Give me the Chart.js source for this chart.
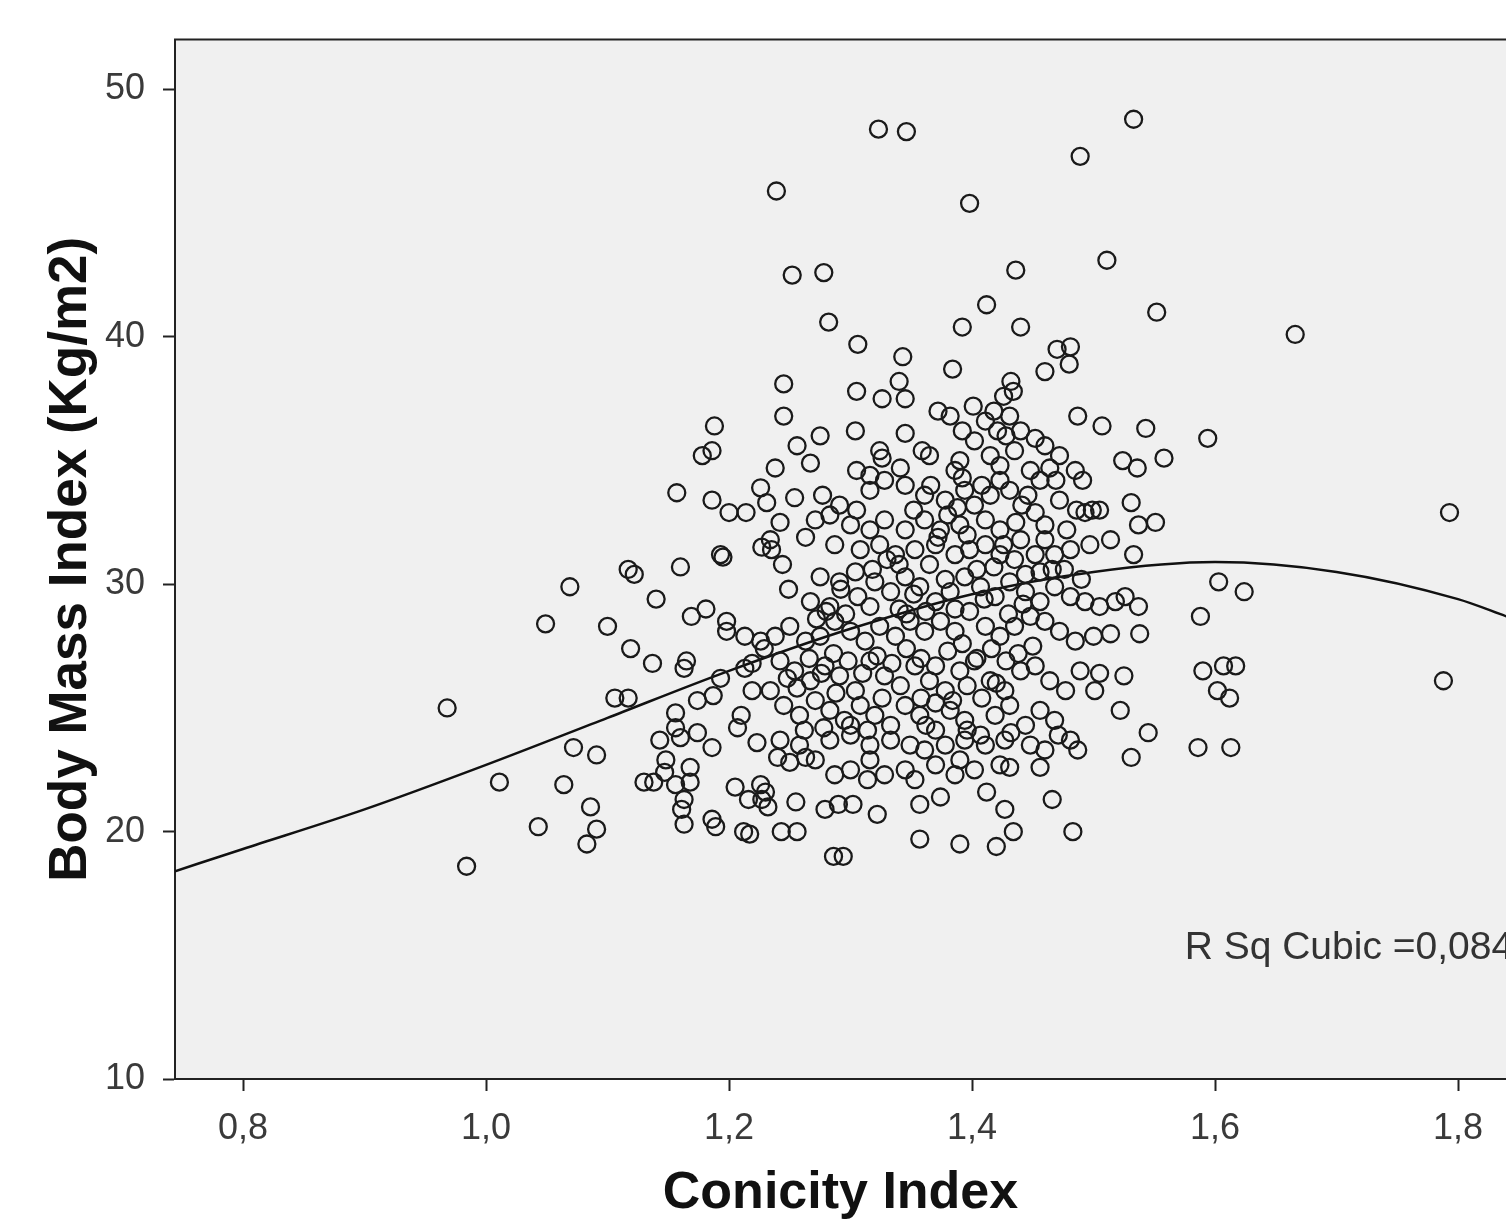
<!DOCTYPE html>
<html>
<head>
<meta charset="utf-8">
<script src="https://cdn.jsdelivr.net/npm/chart.js@4.4.1/dist/chart.umd.min.js"></script>
<style>
  html, body { margin: 0; padding: 0; background: #fff; }
  #wrap { width: 1506px; height: 1225px; position: relative; }
</style>
</head>
<body>
<div id="wrap"><canvas id="bmiChart"></canvas></div>
<script>
// Conicity Index vs Body Mass Index, [x, y]
const points = [
  // upper outliers
  [1.323,48.4],[1.346,48.3],[1.533,48.8],[1.489,47.3],[1.239,45.9],[1.398,45.4],[1.511,43.1],
  [1.252,42.5],[1.278,42.6],[1.436,42.7],[1.412,41.3],[1.552,41.0],[1.282,40.6],[1.392,40.4],
  [1.440,40.4],[1.666,40.1],[1.306,39.7],[1.343,39.2],[1.470,39.5],[1.481,39.6],[1.480,38.9],
  [1.384,38.7],[1.460,38.6],[1.245,38.1],[1.340,38.2],[1.432,38.2],[1.434,37.8],[1.305,37.8],
  [1.326,37.5],[1.345,37.5],[1.372,37.0],[1.401,37.2],[1.426,37.6],
  // 34 - 37
  [1.188,36.4],[1.245,36.8],[1.507,36.4],[1.543,36.3],[1.594,35.9],[1.275,36.0],[1.304,36.2],
  [1.345,36.1],[1.421,36.2],[1.256,35.6],[1.324,35.4],[1.326,35.1],[1.178,35.2],[1.186,35.4],
  [1.524,35.0],[1.536,34.7],[1.558,35.1],[1.267,34.9],[1.359,35.4],[1.238,34.7],[1.305,34.6],
  [1.464,34.7],[1.491,34.2],[1.469,34.2],
  [1.382,36.8],[1.411,36.6],[1.431,36.8],[1.440,36.2],[1.452,35.9],[1.460,35.6],[1.472,35.2],
  [1.435,35.4],[1.415,35.2],[1.390,35.0],[1.365,35.2],[1.341,34.7],[1.316,34.4],[1.423,34.8],
  [1.448,34.6],[1.485,34.6],[1.487,36.8],
  [1.392,36.2],[1.402,35.8],[1.418,37.0],[1.428,36.0],
  // 31 - 34
  [1.157,33.7],[1.186,33.4],[1.226,33.9],[1.231,33.3],[1.254,33.5],[1.277,33.6],[1.531,33.3],
  [1.200,32.9],[1.214,32.9],[1.242,32.5],[1.505,33.0],[1.493,32.9],[1.551,32.5],[1.537,32.4],
  [1.234,31.8],[1.235,31.4],[1.227,31.5],[1.244,30.8],[1.533,31.2],[1.193,31.2],[1.195,31.1],
  [1.291,33.2],[1.305,33.0],[1.316,33.8],[1.328,34.2],[1.345,34.0],[1.361,33.6],[1.378,33.4],
  [1.386,34.6],[1.392,34.3],[1.394,33.8],[1.402,33.2],[1.415,33.6],[1.423,34.2],[1.431,33.8],
  [1.441,33.2],[1.452,32.9],[1.460,32.4],[1.472,33.4],[1.478,32.2],[1.486,33.0],[1.499,33.0],
  [1.460,31.8],[1.440,31.8],[1.423,32.2],[1.411,32.6],[1.390,32.4],[1.374,32.2],[1.361,32.6],
  [1.345,32.2],[1.328,32.6],[1.316,32.2],[1.300,32.4],[1.283,32.8],[1.271,32.6],[1.263,31.9],
  [1.287,31.6],[1.308,31.4],[1.324,31.6],[1.337,31.2],[1.353,31.4],[1.370,31.6],[1.386,31.2],
  [1.398,31.4],[1.411,31.6],[1.423,31.2],[1.435,31.0],[1.452,31.2],[1.468,31.2],[1.481,31.4],
  [1.497,31.6],[1.514,31.8],
  [1.372,31.9],[1.380,32.8],[1.388,33.1],[1.396,32.0],[1.426,31.6],[1.436,32.5],[1.352,33.0],
  [1.366,34.0],[1.408,34.0],[1.446,33.6],[1.456,34.2],
  // 27 - 31
  [1.160,30.7],[1.117,30.6],[1.122,30.4],[1.069,29.9],[1.140,29.4],[1.049,28.4],[1.100,28.3],
  [1.169,28.7],[1.198,28.5],[1.198,28.1],[1.119,27.4],[1.249,29.8],[1.181,29.0],
  [1.588,28.7],[1.603,30.1],[1.624,29.7],
  [1.275,30.3],[1.291,30.1],[1.304,30.5],[1.320,30.1],[1.333,29.7],[1.345,30.3],[1.357,29.9],
  [1.370,29.3],[1.382,29.7],[1.394,30.3],[1.407,29.9],[1.419,29.5],[1.431,30.1],[1.444,29.7],
  [1.456,29.3],[1.468,29.9],[1.481,29.5],[1.493,29.3],[1.505,29.1],[1.518,29.3],[1.526,29.5],
  [1.537,29.1],[1.514,28.0],[1.538,28.0],[1.500,27.9],[1.485,27.7],[1.472,28.1],[1.460,28.5],
  [1.448,28.7],[1.435,28.3],[1.423,27.9],[1.411,28.3],[1.398,28.9],[1.386,28.1],[1.374,28.5],
  [1.361,28.1],[1.349,28.5],[1.337,27.9],[1.324,28.3],[1.312,27.7],[1.300,28.1],[1.287,28.5],
  [1.275,27.9],[1.263,27.7],[1.250,28.3],[1.238,27.9],[1.226,27.7],[1.213,27.9],[1.267,29.3],
  [1.283,29.1],[1.316,29.1],
  [1.365,30.8],[1.404,30.6],[1.410,29.4],[1.418,30.7],[1.444,30.4],[1.378,30.2],[1.386,29.0],
  [1.362,28.9],[1.352,29.6],[1.340,30.8],[1.330,31.0],[1.318,30.6],[1.306,29.5],[1.296,28.8],
  [1.346,28.8],[1.476,30.6],[1.466,30.6],[1.456,30.5],[1.490,30.2],[1.430,28.8],[1.442,29.2],
  [1.340,29.0],[1.292,29.8],[1.280,28.9],[1.272,28.6],
  // 23 - 27
  [1.137,26.8],[1.165,26.9],[1.163,26.6],[1.193,26.2],[1.590,26.5],[1.607,26.7],[1.617,26.7],
  [1.602,25.7],[1.612,25.4],[1.586,23.4],[1.613,23.4],[1.793,32.9],[1.788,26.1],
  [0.968,25.0],[1.106,25.4],[1.117,25.4],[1.072,23.4],[1.091,23.1],
  [1.487,23.3],[1.531,23.0],[1.545,24.0],[1.522,24.9],[1.525,26.3],[1.505,26.4],
  [1.207,24.2],[1.223,23.6],[1.174,24.0],[1.186,23.4],[1.156,24.2],[1.160,23.8],
  [1.174,25.3],[1.187,25.5],[1.210,24.7],[1.219,26.8],[1.213,26.6],[1.229,27.4],[1.219,25.7],
  [1.156,24.8],[1.143,23.7],
  [1.242,26.9],[1.254,26.5],[1.267,26.1],[1.279,26.7],[1.291,26.3],[1.304,25.7],[1.316,26.9],
  [1.328,26.3],[1.341,25.9],[1.353,26.7],[1.365,26.1],[1.378,25.7],[1.390,26.5],[1.402,26.9],
  [1.415,26.1],[1.427,25.7],[1.440,26.5],[1.452,26.7],[1.464,26.1],[1.477,25.7],[1.489,26.5],
  [1.501,25.7],
  [1.234,25.7],[1.245,25.1],[1.258,24.7],[1.271,25.3],[1.283,24.9],[1.295,24.5],[1.308,25.1],
  [1.320,24.7],[1.333,24.3],[1.345,25.1],[1.357,24.7],[1.370,24.1],[1.382,24.9],[1.394,24.5],
  [1.407,23.9],[1.419,24.7],[1.431,25.1],[1.444,24.3],[1.456,24.9],[1.468,24.5],[1.481,23.7],
  [1.471,23.9],
  [1.242,23.7],[1.258,23.5],[1.283,23.7],[1.300,23.9],[1.316,23.5],[1.333,23.7],[1.349,23.5],
  [1.361,23.3],[1.378,23.5],[1.394,23.7],[1.411,23.5],[1.427,23.7],[1.448,23.5],[1.460,23.3],
  [1.286,27.2],[1.298,26.9],[1.310,26.4],[1.322,27.1],[1.334,26.8],[1.346,27.4],[1.358,27.0],
  [1.370,26.7],[1.380,27.3],[1.392,27.6],[1.404,27.0],[1.416,27.4],[1.428,26.9],[1.438,27.2],
  [1.450,27.5],[1.358,25.4],[1.370,25.2],[1.384,25.3],[1.396,25.9],[1.408,25.4],[1.420,26.0],
  [1.432,24.0],[1.396,24.1],[1.362,24.3],[1.326,25.4],[1.314,24.1],[1.300,24.3],[1.288,25.6],
  [1.276,26.4],[1.266,27.0],[1.256,25.8],[1.248,26.2],[1.262,24.1],[1.278,24.2],
  // 18 - 23
  [1.011,22.0],[1.064,21.9],[1.086,21.0],[1.043,20.2],[1.091,20.1],[1.083,19.5],[0.984,18.6],
  [1.130,22.0],[1.138,22.0],[1.147,22.4],[1.156,21.9],[1.168,22.0],[1.163,21.3],[1.161,20.9],
  [1.163,20.3],[1.186,20.5],[1.189,20.2],[1.212,20.0],[1.217,19.9],[1.243,20.0],[1.256,20.0],
  [1.286,19.0],[1.294,19.0],[1.148,22.9],[1.168,22.6],
  [1.357,19.7],[1.390,19.5],[1.420,19.4],[1.434,20.0],[1.483,20.0],[1.466,21.3],[1.456,22.6],
  [1.431,22.6],[1.412,21.6],[1.427,20.9],
  [1.302,21.1],[1.322,20.7],[1.357,21.1],[1.374,21.4],[1.314,22.1],[1.279,20.9],[1.290,21.1],
  [1.255,21.2],[1.227,21.3],[1.232,21.0],[1.216,21.3],[1.205,21.8],[1.226,21.9],[1.230,21.6],
  [1.240,23.0],[1.250,22.8],[1.263,23.0],
  [1.271,22.9],[1.287,22.3],[1.300,22.5],[1.316,22.9],[1.328,22.3],[1.345,22.5],[1.353,22.1],
  [1.370,22.7],[1.386,22.3],[1.390,22.9],[1.402,22.5],[1.423,22.7]
];

// cubic fit line
const fitConicity = [0.744, 0.8, 0.9, 1.0, 1.1, 1.2, 1.3, 1.4, 1.5, 1.6, 1.7, 1.8, 1.84];
const fitBmi      = [18.4, 19.3, 20.9, 22.7, 24.6, 26.5, 28.2, 29.6, 30.5, 30.9, 30.5, 29.4, 28.7];

const xTicks = [0.8, 1.0, 1.2, 1.4, 1.6, 1.8];
const yTicks = [10, 20, 30, 40, 50];
const rSqText = 'R Sq Cubic =0,084';

const fontFam = '"Liberation Sans", Arial, sans-serif';

// grey plot background, top frame line, R-squared note
const frameAndNote = {
  id: 'frameAndNote',
  beforeDraw(chart) {
    const { ctx, chartArea: a } = chart;
    ctx.save();
    ctx.fillStyle = '#f0f0f0';
    ctx.fillRect(a.left, a.top, a.right - a.left, a.bottom - a.top);
    ctx.restore();
  },
  afterDraw(chart) {
    const { ctx, chartArea: a, scales } = chart;
    ctx.save();
    ctx.strokeStyle = '#222';
    ctx.lineWidth = 2;
    ctx.beginPath();
    ctx.moveTo(a.left - 1, a.top);
    ctx.lineTo(a.right, a.top);
    ctx.stroke();
    ctx.fillStyle = '#333';
    ctx.font = '39px ' + fontFam;
    ctx.textBaseline = 'middle';
    ctx.fillText(rSqText, scales.x.getPixelForValue(1.575), scales.y.getPixelForValue(15.3));
    ctx.restore();
  }
};

const ctx = document.getElementById('bmiChart').getContext('2d');
new Chart(ctx, {
  type: 'scatter',
  data: {
    datasets: [{
      data: points.map(p => ({ x: p[0], y: p[1] })),
      pointStyle: 'circle',
      pointRadius: 8.5,
      pointBorderWidth: 2.3,
      pointBorderColor: '#1a1a1a',
      pointBackgroundColor: 'rgba(0,0,0,0)',
      showLine: false
    }, {
      data: fitConicity.map((x, i) => ({ x: x, y: fitBmi[i] })),
      showLine: true,
      pointRadius: 0,
      borderColor: '#111',
      borderWidth: 2.5,
      cubicInterpolationMode: 'monotone',
      fill: false
    }]
  },
  options: {
    responsive: true,
    maintainAspectRatio: false,
    animation: false,
    layout: { autoPadding: false, padding: { top: 38, right: 0, left: 0, bottom: 0 } },
    plugins: {
      legend: { display: false },
      tooltip: { enabled: false }
    },
    scales: {
      x: {
        type: 'linear',
        min: 0.744,
        max: 1.8395,
        afterBuildTicks: s => { s.ticks = xTicks.map(v => ({ value: v })); },
        afterFit: s => { s.height = 146; s.paddingLeft = 0; s.paddingRight = 0; },
        grid: { drawOnChartArea: false, drawTicks: true, tickLength: 12, tickColor: '#222', tickWidth: 2 },
        border: { display: true, color: '#222', width: 2 },
        ticks: {
          padding: 16,
          color: '#3a3a3a',
          font: { family: fontFam, size: 36 },
          maxRotation: 0,
          callback: v => v.toFixed(1).replace('.', ',')
        },
        title: {
          display: true,
          text: 'Conicity Index',
          color: '#111',
          font: { family: fontFam, size: 52, weight: 'bold', lineHeight: 1.2 },
          padding: { top: 0, bottom: 0 }
        }
      },
      y: {
        type: 'linear',
        min: 10,
        max: 52.02,
        afterBuildTicks: s => { s.ticks = yTicks.map(v => ({ value: v })); },
        afterFit: s => { s.width = 175; },
        grid: { drawOnChartArea: false, drawTicks: true, tickLength: 12, tickColor: '#222', tickWidth: 2 },
        border: { display: true, color: '#222', width: 2 },
        ticks: {
          padding: 18,
          color: '#3a3a3a',
          font: { family: fontFam, size: 36 },
          callback: v => String(v)
        },
        title: {
          display: true,
          text: 'Body Mass Index (Kg/m2)',
          color: '#111',
          font: { family: fontFam, size: 53, weight: 'bold', lineHeight: 1.2 },
          padding: { top: 40, bottom: 0 }
        }
      }
    }
  },
  plugins: [frameAndNote]
});
</script>
</body>
</html>
